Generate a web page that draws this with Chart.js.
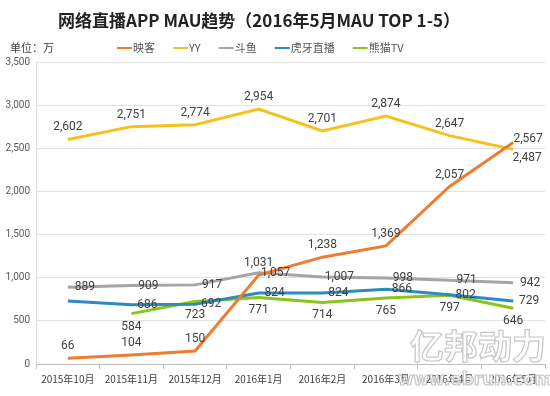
<!DOCTYPE html>
<html>
<head>
<meta charset="utf-8">
<script src="https://cdn.jsdelivr.net/npm/chart.js@4.4.1/dist/chart.umd.min.js"></script>
<style>
  html, body { margin: 0; padding: 0; background: #fff; }
  #wrap { width: 550px; height: 396px; position: relative; }
</style>
</head>
<body>
<div id="wrap"><canvas id="mauChart"></canvas></div>
<script>
const months = ['2015年10月', '2015年11月', '2015年12月', '2016年1月', '2016年2月', '2016年3月', '2016年4月', '2016年5月'];
const yingke = [66, 104, 150, 1031, 1238, 1369, 2057, 2567];
const yy = [2602, 2751, 2774, 2954, 2701, 2874, 2647, 2487];
const douyu = [889, 909, 917, 1057, 1007, 998, 971, 942];
const huya = [730, 686, 692, 824, 824, 866, 802, 729];
const xiongmao = [null, 584, 723, 771, 714, 765, 797, 646];
const yMax = 3500;
const yStep = 500;

// where each series puts its value labels (offset from the point)
const labelPlace = [
    { dx: 0, dy: -12, last: { dx: 15, dy: -4 } },
    { dx: 0, dy: -12, last: { dx: 14, dy: 9 } },
    { dx: 17, dy: 0 },
    { dx: 16, dy: 0, skipFirst: true },
    { dx: 0, dy: 13 }
];

const valueLabels = {
    id: 'valueLabels',
    afterDatasetsDraw(chart) {
        const { ctx } = chart;
        ctx.save();
        ctx.font = '12px Roboto';
        ctx.fillStyle = '#404040';
        ctx.textAlign = 'center';
        ctx.textBaseline = 'middle';
        chart.data.datasets.forEach((ds, i) => {
            const meta = chart.getDatasetMeta(i);
            const place = labelPlace[i];
            meta.data.forEach((pt, j) => {
                const v = ds.data[j];
                if (v === null) return;
                if (j === 0 && place.skipFirst) return;
                let off = place;
                if (j === ds.data.length - 1 && place.last) off = place.last;
                ctx.fillText(v.toLocaleString('en-US'), pt.x + off.dx, pt.y + off.dy);
            });
        });
        ctx.restore();
    }
};

const extras = {
    id: 'extras',
    afterDraw(chart) {
        const { ctx } = chart;
        ctx.save();
        // title
        ctx.font = 'bold 17px "Noto Sans CJK SC"';
        ctx.fillStyle = '#222';
        ctx.textAlign = 'center';
        ctx.textBaseline = 'middle';
        ctx.fillText('网络直播APP MAU趋势（2016年5月MAU TOP 1-5）', 259, 21);

        // unit + legend
        ctx.textAlign = 'left';
        ctx.font = '11px "Noto Sans CJK SC"';
        ctx.fillStyle = '#404040';
        ctx.fillText('单位：万', 10, 48);
        let x = 117;
        chart.data.datasets.forEach(ds => {
            ctx.fillStyle = ds.borderColor;
            ctx.fillRect(x, 47, 15, 2);
            ctx.fillStyle = '#555';
            ctx.fillText(ds.label, x + 16, 48);
            x += 16 + ctx.measureText(ds.label).width + 18;
        });

        // watermark
        ctx.font = 'bold 34px "Noto Sans CJK SC"';
        ctx.strokeStyle = 'rgba(150,150,150,0.55)';
        ctx.lineWidth = 1.2;
        ctx.fillStyle = 'rgba(255,255,255,0.8)';
        ctx.textAlign = 'center';
        ctx.fillText('亿邦动力', 478, 346);
        ctx.strokeText('亿邦动力', 478, 346);
        ctx.font = 'bold 17px "DejaVu Sans"';
        ctx.fillText('www.ebrun.com', 475, 381);
        ctx.strokeText('www.ebrun.com', 475, 381);
        ctx.restore();
    }
};

function series(label, data, color) {
    return {
        label: label,
        data: data,
        borderColor: color,
        backgroundColor: color,
        borderWidth: 3,
        pointRadius: 0,
        tension: 0,
        spanGaps: false
    };
}

const ctx = document.getElementById('mauChart').getContext('2d');
new Chart(ctx, {
    type: 'line',
    data: {
        labels: months,
        datasets: [
            series('映客', yingke, '#ED7D31'),
            series('YY', yy, '#F5C21B'),
            series('斗鱼', douyu, '#A5A5A5'),
            series('虎牙直播', huya, '#2E8BC0'),
            series('熊猫TV', xiongmao, '#8CC21C')
        ]
    },
    options: {
        responsive: true,
        maintainAspectRatio: false,
        animation: false,
        layout: { padding: { left: 0, right: 5, top: 62, bottom: 7 } },
        scales: {
            x: {
                offset: true,
                grid: { display: true, drawOnChartArea: false, drawTicks: true, tickLength: 5, color: '#bfbfbf', offset: true },
                border: { color: '#bfbfbf' },
                ticks: { color: '#404040', font: { size: 10, family: '"Noto Sans CJK SC"' }, maxRotation: 0, padding: 4 }
            },
            y: {
                min: 0,
                max: yMax,
                afterFit: scale => { scale.width = 36; },
                ticks: {
                    stepSize: yStep,
                    color: '#595959',
                    font: { size: 10, family: 'Roboto' },
                    padding: 6,
                    callback: v => v.toLocaleString('en-US')
                },
                grid: { color: '#e3e3e3', drawTicks: false },
                border: { color: '#d9d9d9' }
            }
        },
        plugins: {
            title: { display: false },
            legend: { display: false },
            tooltip: { enabled: false }
        }
    },
    plugins: [valueLabels, extras]
});
</script>
</body>
</html>
